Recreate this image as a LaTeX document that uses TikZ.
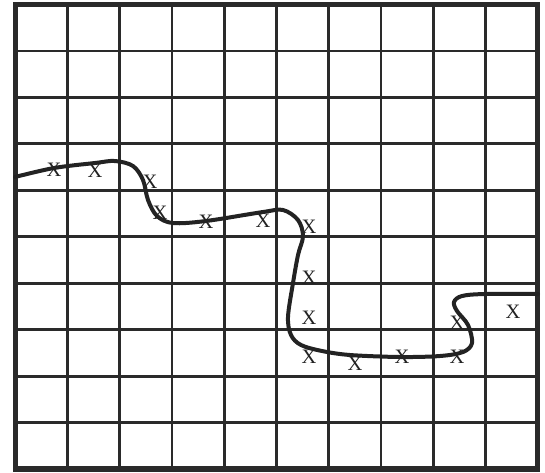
\documentclass[tikz,border=0pt]{standalone}
\usepackage{fontspec}
\setmainfont{Liberation Serif}
\usepackage{tikz}
\definecolor{gridgray}{RGB}{42,42,42}
\definecolor{inkdark}{RGB}{35,35,35}

\begin{document}
\begin{tikzpicture}[x=1pt, y=-1pt,
    gridline/.style={gridgray, line width=2.8pt},
    frame/.style={gridgray, line width=5.5pt},
    path line/.style={inkdark, line width=4pt, line cap=round, line join=round},
    cross/.style={text=inkdark, inner sep=0pt, font=\fontsize{20.5}{20.5}\selectfont}]
    \useasboundingbox (0,0) rectangle (545,472);
    % the grid, 10 by 10
    \foreach \i in {1,...,9}{
      \draw[gridline] ({15.3+52.24*\i},4.5) -- ({15.3+52.24*\i},469);
      \draw[gridline] (15.3,{4.5+46.45*\i}) -- (537.7,{4.5+46.45*\i});}
    \draw[frame] (15.3,4.5) rectangle (537.7,469);
    % the wavy path across the grid
    \draw[path line] plot[smooth, tension=0.55] coordinates {
      (15,177) (54,168) (95,163) (115,161) (133,166) (143,180) (148,200)
      (157,216) (173,223) (206,221) (263,212) (283,210) (298,220) (303,236)
      (298,255) (293,283) (288,317) (291,335) (301,345) (322,351) (350,355)
      (400,357) (440,356) (463,352) (472,343) (468,325) (457,311) (454,302)
      (462,296) (485,294) (538,294)};
    % the marks along the path
    \foreach \p [count=\k] in {(54,170),(95,171),(150,182),(160,213),(206,222),
        (263,221),(309,227),(309,278),(309,318),(309,357),(355,364),(402,357),
        (457,323),(457,357),(513,312)}{
      \node[cross] (x\k) at \p {X};}
\end{tikzpicture}
\end{document}
